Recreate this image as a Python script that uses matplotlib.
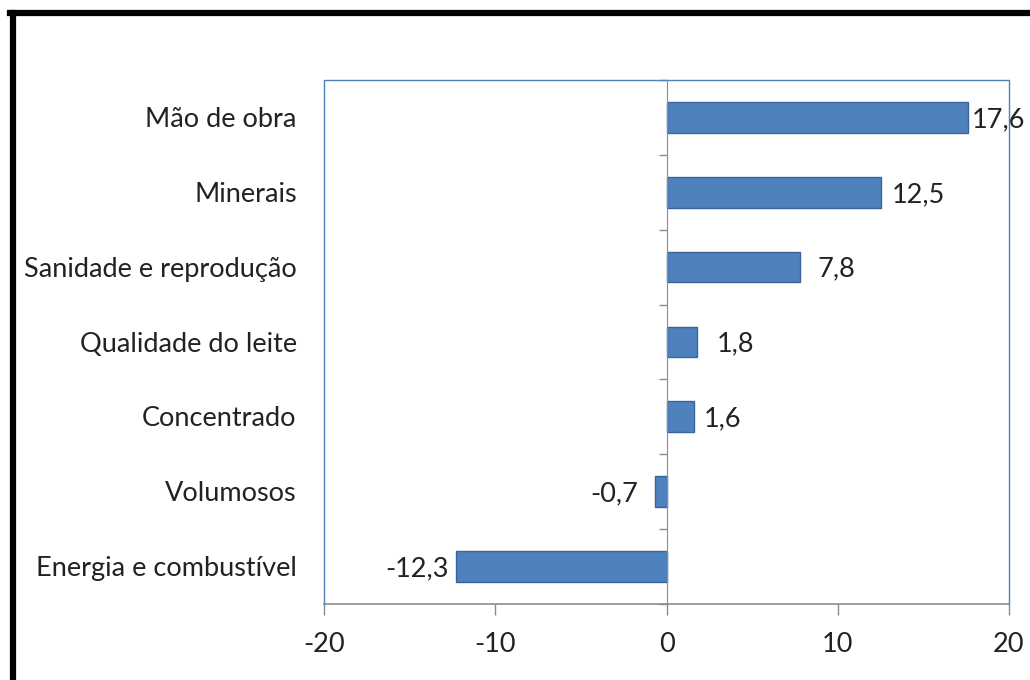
import numpy as np
import matplotlib
matplotlib.use('Agg')
import matplotlib.pyplot as plt
from matplotlib.lines import Line2D

plt.rcParams['font.family'] = ['Lato', 'DejaVu Sans']

# data, top to bottom as in the chart
categorias = ['Mão de obra', 'Minerais', 'Sanidade e reprodução',
              'Qualidade do leite', 'Concentrado', 'Volumosos',
              'Energia e combustível']
variacao = [17.6, 12.5, 7.8, 1.8, 1.6, -0.7, -12.3]
rotulos = ['17,6', '12,5', '7,8', '1,8', '1,6', '-0,7', '-12,3']
xticks = [-20, -10, 0, 10, 20]

# gap (px) between bar end and its label, as placed in the original
gap_px = [4, 11, 17, 19, 10, 16, 7]

BAR = '#4F81BD'
EDGE = '#3A659A'
GRAY = '#8C8C8C'
TXT = '#222222'
FS = 19.5
DY = -1.5  # small downward nudge of text (points)

fig = plt.figure(figsize=(10.3, 6.8), dpi=100)
ax = fig.add_axes([0.3146, 0.1118, 0.665, 0.7706])

pos = np.arange(len(categorias))
ax.barh(pos, variacao, height=0.41, color=BAR, edgecolor=EDGE, linewidth=1, zorder=3)

ax.set_xlim(-20, 20)
ax.set_ylim(len(categorias) - 0.5, -0.5)

# vertical axis sits on zero, ticks at category boundaries
ax.spines['left'].set_position(('data', 0))
ax.spines['left'].set_color(GRAY)
ax.spines['left'].set_zorder(4)
ax.set_yticks(np.arange(-0.5, len(categorias), 1))
ax.set_yticklabels([])
ax.tick_params(axis='y', direction='out', length=6, color=GRAY, width=1)

ax.spines['bottom'].set_color(GRAY)
ax.spines['bottom'].set_linewidth(1.2)
ax.set_xticks(xticks)
ax.set_xticklabels([str(t) for t in xticks], fontsize=FS, color=TXT)
ax.tick_params(axis='x', direction='out', length=8, color=GRAY, width=1, pad=12)

ax.spines['top'].set_visible(False)
ax.spines['right'].set_visible(False)
# blue plot-area border on top, left and right
ax.plot([0, 0, 1, 1], [0, 1, 1, 0], transform=ax.transAxes, color=BAR,
        linewidth=1, clip_on=False, zorder=2)

# category names to the left of the plot area
for i, nome in enumerate(categorias):
    ax.annotate(nome, (-0.04, i), xycoords=ax.get_yaxis_transform(),
                xytext=(0, DY), textcoords='offset points',
                ha='right', va='center', fontsize=FS, color=TXT)

# value labels
for i, (v, r, g) in enumerate(zip(variacao, rotulos, gap_px)):
    off = g * 0.72
    if v >= 0:
        ax.annotate(r, (v, i), xytext=(off, DY), textcoords='offset points',
                    ha='left', va='center', fontsize=FS, color=TXT)
    else:
        ax.annotate(r, (v, i), xytext=(-off, DY), textcoords='offset points',
                    ha='right', va='center', fontsize=FS, color=TXT)

# thick black frame around the figure (cut off at right and bottom)
fig.add_artist(Line2D([13 / 1030, 13 / 1030], [0, 1 - 13 / 680],
                      transform=fig.transFigure, color='black', linewidth=4.5))
fig.add_artist(Line2D([10 / 1030, 1], [1 - 13 / 680, 1 - 13 / 680],
                      transform=fig.transFigure, color='black', linewidth=4.5))

fig.savefig('out.png', dpi=100)
